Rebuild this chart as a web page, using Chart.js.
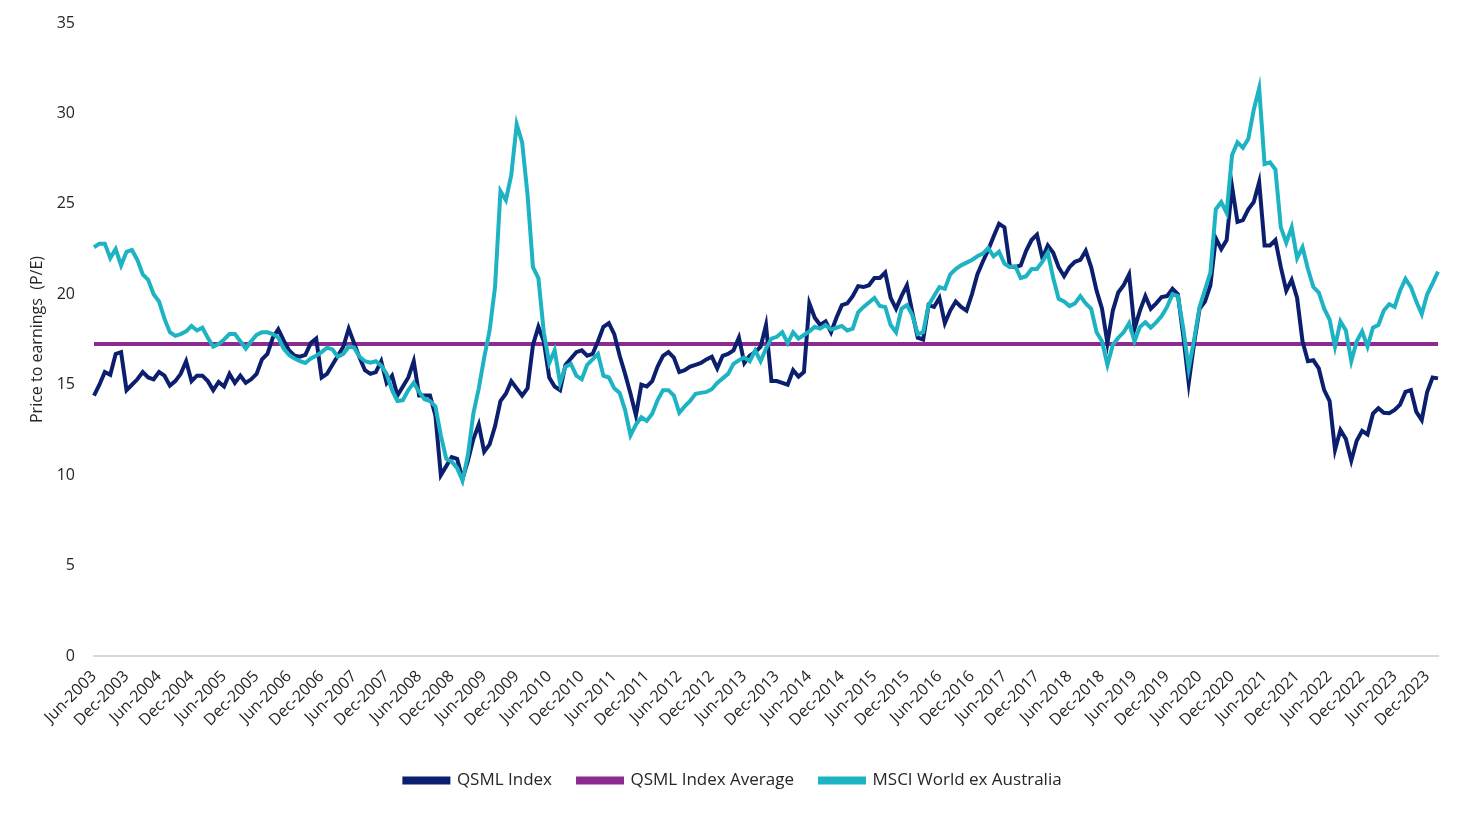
<!DOCTYPE html>
<html>
<head>
<meta charset="utf-8">
<script src="https://cdn.jsdelivr.net/npm/chart.js@4.4.1/dist/chart.umd.min.js"></script>
<style>
html,body{margin:0;padding:0;background:#fff;}
#wrap{width:1478px;height:821px;}
</style>
</head>
<body>
<div id="wrap"><canvas id="c" width="1478" height="821"></canvas></div>
<script>
// Monthly categories: Jun-2003 .. Feb-2024
const startYear = 2003, startMonth = 5, monthCount = 249;
const monthNames = ["Jan","Feb","Mar","Apr","May","Jun","Jul","Aug","Sep","Oct","Nov","Dec"];
const categories = [];
for (let k = 0; k < monthCount; k++) {
  const m = (startMonth + k) % 12, y = startYear + Math.floor((startMonth + k) / 12);
  categories.push(monthNames[m] + "-" + y);
}

const qsmlIndex = [
14.4,15.0,15.7,15.55,16.7,16.8,14.7,15.0,15.3,15.7,
15.4,15.3,15.7,15.5,14.95,15.2,15.6,16.3,15.2,15.5,
15.5,15.2,14.7,15.15,14.9,15.6,15.1,15.5,15.1,15.3,
15.6,16.4,16.7,17.6,18.06,17.45,16.9,16.6,16.55,16.65,
17.3,17.55,15.4,15.6,16.1,16.6,17.1,18.1,17.3,16.5,
15.8,15.6,15.7,16.3,15.1,15.5,14.4,14.9,15.4,16.3,
14.4,14.4,14.4,13.3,10.0,10.5,11.0,10.9,9.8,10.8,
12.0,12.8,11.3,11.7,12.7,14.1,14.5,15.2,14.8,14.4,
14.8,17.2,18.2,17.4,15.4,14.9,14.7,16.1,16.45,16.8,
16.9,16.6,16.7,17.4,18.2,18.4,17.8,16.6,15.6,14.5,
13.3,15.0,14.9,15.2,16.0,16.6,16.8,16.5,15.7,15.8,
16.0,16.1,16.2,16.4,16.55,15.9,16.6,16.7,16.9,17.6,
16.2,16.6,16.8,17.1,18.3,15.2,15.2,15.1,15.0,15.8,
15.45,15.7,19.5,18.7,18.3,18.5,17.9,18.7,19.4,19.5,
19.9,20.45,20.4,20.5,20.9,20.9,21.2,19.8,19.2,19.9,
20.5,19.0,17.6,17.5,19.4,19.3,19.8,18.4,19.1,19.6,
19.3,19.1,20.0,21.1,21.8,22.45,23.2,23.9,23.7,21.55,
21.5,21.6,22.4,23.0,23.3,22.0,22.7,22.3,21.5,21.0,
21.5,21.8,21.9,22.4,21.5,20.2,19.2,17.3,19.1,20.1,
20.5,21.1,18.1,19.1,19.9,19.2,19.5,19.85,19.9,20.3,
20.0,17.7,15.1,17.3,19.2,19.6,20.5,23.1,22.5,23.0,
25.95,24.0,24.1,24.7,25.1,26.2,22.7,22.7,23.0,21.5,
20.2,20.8,19.8,17.4,16.3,16.35,15.9,14.7,14.1,11.4,
12.5,12.0,10.8,11.9,12.45,12.25,13.4,13.7,13.45,13.42,
13.6,13.9,14.6,14.7,13.5,13.05,14.6,15.4,15.35
];

const msciWorldExAus = [
22.6,22.8,22.8,22.0,22.5,21.6,22.35,22.45,21.9,21.1,
20.8,20.0,19.6,18.65,17.9,17.7,17.8,17.95,18.25,18.0,
18.15,17.6,17.1,17.25,17.5,17.8,17.8,17.4,17.0,17.4,
17.75,17.9,17.9,17.8,17.6,17.0,16.65,16.45,16.3,16.2,
16.45,16.6,16.8,17.05,16.95,16.55,16.7,17.1,17.05,16.55,
16.3,16.22,16.3,16.05,15.6,14.7,14.1,14.15,14.7,15.1,
14.6,14.2,14.1,13.8,12.2,10.9,10.75,10.4,9.7,11.1,
13.4,14.8,16.5,18.0,20.4,25.7,25.2,26.6,29.4,28.4,
25.5,21.5,20.9,17.9,16.2,16.9,15.1,16.0,16.15,15.5,
15.3,16.1,16.4,16.7,15.5,15.4,14.8,14.55,13.6,12.2,
12.8,13.2,13.0,13.4,14.15,14.7,14.7,14.4,13.45,13.8,
14.1,14.5,14.55,14.6,14.75,15.1,15.35,15.6,16.15,16.35,
16.5,16.3,16.9,16.3,17.0,17.55,17.65,17.9,17.3,17.9,
17.55,17.75,17.95,18.2,18.1,18.3,18.05,18.15,18.25,18.0,
18.1,19.0,19.3,19.55,19.8,19.35,19.3,18.3,17.9,19.2,
19.4,18.85,17.8,17.9,19.4,19.9,20.4,20.3,21.1,21.4,
21.6,21.75,21.9,22.1,22.25,22.55,22.1,22.35,21.7,21.5,
21.55,20.9,21.0,21.4,21.4,21.8,22.3,20.9,19.75,19.6,
19.35,19.5,19.9,19.5,19.2,17.9,17.4,16.1,17.2,17.6,
17.9,18.4,17.4,18.2,18.45,18.15,18.45,18.8,19.3,20.0,
19.9,18.1,15.9,17.5,19.3,20.25,21.2,24.7,25.1,24.5,
27.7,28.4,28.1,28.6,30.2,31.4,27.2,27.3,26.9,23.7,
22.85,23.7,22.0,22.6,21.4,20.4,20.1,19.2,18.6,17.1,
18.5,18.0,16.3,17.4,17.95,17.1,18.15,18.3,19.1,19.45,
19.3,20.2,20.85,20.4,19.6,18.9,20.0,20.6,21.25
];

const qsmlAverageValue = 17.25;
const qsmlAverage = categories.map(() => qsmlAverageValue);

const yTicks = [0, 5, 10, 15, 20, 25, 30, 35];
const labelEvery = 6;

const NAVY = '#0c1f6e', PURPLE = '#8b2b8f', TEAL = '#1db3c3';
const FONT = "'Open Sans', 'Noto Sans', sans-serif";

new Chart(document.getElementById('c'), {
  type: 'line',
  data: {
    labels: categories,
    datasets: [
      { label: 'QSML Index', data: qsmlIndex, borderColor: NAVY, backgroundColor: NAVY, borderWidth: 4, pointRadius: 0, tension: 0, order: 2 },
      { label: 'QSML Index Average', data: qsmlAverage, borderColor: PURPLE, backgroundColor: PURPLE, borderWidth: 4, pointRadius: 0, tension: 0, order: 3 },
      { label: 'MSCI World ex Australia', data: msciWorldExAus, borderColor: TEAL, backgroundColor: TEAL, borderWidth: 4, pointRadius: 0, tension: 0, order: 1 }
    ]
  },
  options: {
    responsive: false,
    devicePixelRatio: 1,
    animation: false,
    layout: { padding: { left: 28, right: 40, top: 23, bottom: 22 } },
    plugins: {
      tooltip: { enabled: false },
      legend: {
        position: 'bottom',
        labels: {
          sort: (a, b) => a.datasetIndex - b.datasetIndex,
          boxWidth: 44, boxHeight: 4,
          padding: 26,
          color: '#262626',
          font: { family: FONT, size: 17 }
        }
      }
    },
    scales: {
      x: {
        type: 'category',
        offset: false,
        grid: { display: false, drawTicks: false },
        border: { display: true, color: '#d9d9d9', width: 2 },
        ticks: {
          autoSkip: false,
          maxRotation: 45, minRotation: 45,
          padding: 11,
          color: '#262626',
          font: { family: FONT, size: 16 },
          callback: function(v, i) { return i % labelEvery === 0 ? this.getLabelForValue(v) : null; }
        },
        afterFit: (s) => { s.height = 90; }
      },
      y: {
        min: 0, max: 35,
        afterBuildTicks: (s) => { s.ticks = yTicks.map(v => ({ value: v })); },
        grid: { display: false, drawTicks: false },
        border: { display: false },
        ticks: { padding: 19, color: '#262626', font: { family: FONT, size: 16 } },
        title: { display: true, text: 'Price to earnings  (P/E)', color: '#262626', font: { family: FONT, size: 16 }, padding: 0 },
        afterFit: (s) => { s.width = 66; s.paddingTop = 0; s.paddingBottom = 0; }
      }
    }
  }
});
</script>
</body>
</html>
